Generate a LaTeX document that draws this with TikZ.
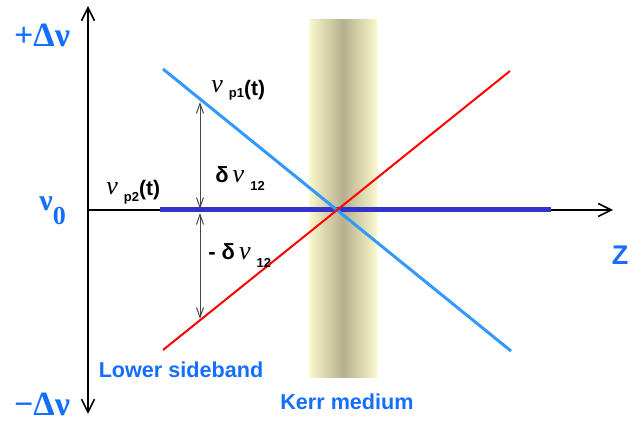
\documentclass[tikz,border=0pt]{standalone}
\usepackage{fontspec}
\setmainfont{Liberation Sans}
\newfontfamily\grk{Liberation Serif}
\usetikzlibrary{arrows.meta}
\definecolor{lblue}{RGB}{20,110,255}
\definecolor{lineblue}{RGB}{51,153,255}
\definecolor{dblue}{RGB}{51,51,204}
\definecolor{kerrpale}{RGB}{250,248,205}
\definecolor{kerrdark}{RGB}{182,177,140}
\definecolor{darrow}{RGB}{70,70,70}
\begin{document}
\begin{tikzpicture}[x=0.5pt,y=-0.5pt,
  axisline/.style={line width=1pt,black},
  axtip/.tip={Straight Barb[length=6.5pt,width=6.5pt,line width=0.8pt]},
  smalltip/.tip={Straight Barb[length=5pt,width=3.5pt,line width=0.5pt]},
  dimarrow/.style={darrow,line width=0.5pt,smalltip-smalltip},
  bluelbl/.style={text=lblue,font=\fontsize{10.8}{12}\selectfont\bfseries,inner sep=0pt},
  greeklbl/.style={text=lblue,font=\grk\bfseries\fontsize{17}{19}\selectfont,inner sep=0pt},
  blacklbl/.style={text=black,inner sep=0pt,anchor=base west}]
\useasboundingbox (0,0) rectangle (644,421);
% Kerr medium
\shade[left color=kerrpale,right color=kerrpale,middle color=kerrdark] (309,20) rectangle (377,378);
% coordinates
\coordinate (vtop) at (88,6);
\coordinate (vbot) at (88,414);
\coordinate (org) at (88,210);
\coordinate (zend) at (613,210);
\coordinate (p2a) at (160,210);
\coordinate (p2b) at (551,210);
\coordinate (p1a) at (163,69);
\coordinate (p1b) at (511,351);
\coordinate (lsa) at (163,350);
\coordinate (lsb) at (510,71);
\coordinate (d1a) at (200,102);
\coordinate (d1b) at (200,209);
\coordinate (d2a) at (200,213);
\coordinate (d2b) at (200,319);
% axes
\draw[axisline,axtip-axtip] (vbot) -- (vtop);
\draw[axisline,-axtip] (org) -- (zend);
% lines
\draw[dblue,line width=2.5pt] (p2a) -- (p2b);
\draw[lineblue,line width=1.5pt] (p1a) -- (p1b);
\draw[red,line width=1pt] (lsa) -- (lsb);
% dimension arrows
\draw[dimarrow] (d1b) -- (d1a);
\draw[dimarrow] (d2a) -- (d2b);
% blue labels
\node[greeklbl] (plusdn) at (42,35) {+Δν};
\node[greeklbl] (minusdn) at (42,404) {−Δν};
\node[text=lblue,inner sep=0pt,anchor=base west] (nuzero) at (39,211)
  {\grk\bfseries\fontsize{15}{16}\selectfont ν\raisebox{-7pt}{\fontsize{13}{13}\selectfont 0}};
\node[text=lblue,font=\fontsize{13.5}{16}\selectfont\bfseries,inner sep=0pt] (zlbl) at (620,255) {Z};
\node[bluelbl] (lsb-lbl) at (181,370) {Lower sideband};
\node[bluelbl] (kerr-lbl) at (347,402) {Kerr medium};
% black labels
\node[blacklbl] (nup1) at (211,96)
  {\raisebox{1.5pt}{\grk\itshape\fontsize{13}{14}\selectfont ν}\hspace{3pt}\raisebox{-1pt}{\bfseries\fontsize{6.5}{7}\selectfont p1}{\bfseries\fontsize{10.5}{12}\selectfont (t)}};
\node[blacklbl] (nup2) at (106,196)
  {\raisebox{0.5pt}{\grk\itshape\fontsize{13}{14}\selectfont ν}\hspace{3pt}\raisebox{-3pt}{\bfseries\fontsize{6.5}{7}\selectfont p2}{\bfseries\fontsize{10.5}{12}\selectfont (t)}};
\node[blacklbl] (dnu) at (215,183)
  {{\bfseries\fontsize{11}{12}\selectfont δ}\hspace{2pt}{\grk\itshape\fontsize{13}{14}\selectfont ν}\hspace{3pt}\raisebox{-4pt}{\bfseries\fontsize{6.5}{7}\selectfont 12}};
\node[blacklbl] (mdnu) at (208,260)
  {{\bfseries\fontsize{11}{12}\selectfont -\hspace{3pt}δ}\hspace{2pt}{\grk\itshape\fontsize{13}{14}\selectfont ν}\hspace{3pt}\raisebox{-4pt}{\bfseries\fontsize{6.5}{7}\selectfont 12}};
\end{tikzpicture}
\end{document}
